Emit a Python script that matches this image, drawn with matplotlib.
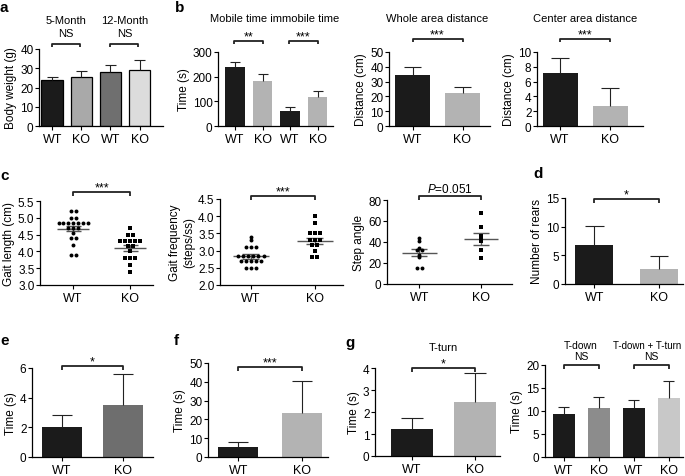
import numpy as np
import matplotlib.pyplot as plt
from matplotlib import transforms

plt.rcParams['font.family'] = ['Liberation Sans', 'DejaVu Sans']
plt.rcParams['font.size'] = 8.5
plt.rcParams['axes.linewidth'] = 0.9
plt.rcParams['mathtext.fontset'] = 'custom'
plt.rcParams['mathtext.it'] = 'Liberation Sans:italic'
plt.rcParams['mathtext.rm'] = 'Liberation Sans'

# ---- data ----
two = ['WT', 'KO']
four = ['WT', 'KO', 'WT', 'KO']

# a: body weight (5-month WT/KO, 12-month WT/KO)
weight_mean = [24.0, 25.3, 27.8, 29.0]
weight_err = [1.7, 3.3, 3.9, 5.3]

# b: mobile / immobile time
mobile_mean = [240, 184, 59, 116]
mobile_err = [19, 26, 20, 26]
whole_mean = [34.5, 22.0]
whole_err = [5.3, 4.6]
center_mean = [7.1, 2.7]
center_err = [2.1, 2.4]

# c: gait analysis (individual animals)
gait_len_wt = [5.2, 5.2, 5.0, 5.0, 4.85, 4.85, 4.85, 4.85, 4.85, 4.85, 4.85,
               4.7, 4.7, 4.7, 4.55, 4.4, 4.4, 4.2, 3.9, 3.9]
gait_len_ko = [4.7, 4.5, 4.5, 4.3, 4.3, 4.3, 4.3, 4.3, 4.15, 4.15, 4.0,
               3.8, 3.8, 3.8, 3.6, 3.4]
gait_len_mean = [4.68, 4.10]
gait_len_sem = [0.07, 0.09]

gait_freq_wt = [3.4, 3.3, 3.1, 3.1, 3.1, 2.85, 2.85, 2.85, 2.85, 2.85, 2.85,
                2.7, 2.7, 2.7, 2.7, 2.7, 2.5, 2.5, 2.5]
gait_freq_ko = [4.0, 3.8, 3.5, 3.5, 3.5, 3.3, 3.3, 3.3, 3.15, 3.15, 3.0,
                2.8, 2.8]
gait_freq_mean = [2.83, 3.27]
gait_freq_sem = [0.06, 0.09]

step_wt = [44, 41, 34, 32, 32, 28, 26, 15, 15]
step_ko = [68, 54, 46, 44, 41, 32, 25]
step_mean = [30.0, 42.7]
step_sem = [3.3, 5.8]

# d: rears
rears_mean = [6.8, 2.7]
rears_err = [3.3, 2.2]

# e, f, g: times
e_mean = [2.0, 3.5]
e_err = [0.8, 2.1]
f_mean = [5.3, 23.4]
f_err = [2.7, 16.8]
tturn_mean = [1.24, 2.47]
tturn_err = [0.5, 1.29]
tdown_mean = [9.4, 10.6, 10.6, 12.9]
tdown_err = [1.4, 2.4, 1.7, 3.6]

BLACK = '#1b1b1b'
GRAY = '#b3b3b3'

W, H = 685, 477
fig = plt.figure(figsize=(W / 100, H / 100), dpi=100)


def make_ax(box, xlim, ylim, yticks, ylabel, xlabels, fmt='{:g}'):
    x0, x1, ytop, ybot = box
    ax = fig.add_axes([x0 / W, 1 - ybot / H, (x1 - x0) / W, (ybot - ytop) / H])
    ax.set_xlim(xlim)
    ax.set_ylim(ylim)
    ax.set_yticks(yticks)
    ax.set_yticklabels([fmt.format(t) for t in yticks])
    ax.set_xticks(range(len(xlabels)))
    ax.set_xticklabels(xlabels)
    ax.set_ylabel(ylabel, labelpad=2, fontsize=8.5)
    for s in ('top', 'right'):
        ax.spines[s].set_visible(False)
    ax.tick_params(axis='y', length=3, width=0.8, pad=1, labelsize=8.5)
    ax.tick_params(axis='x', length=3, width=0.8, pad=2, labelsize=9)
    return ax


def bars(ax, means, errs, colors, width, edge=None, lw=0.0):
    x = np.arange(len(means))
    top = np.add(means, errs)
    ax.bar(x, means, width, color=colors, edgecolor=edge if edge else colors,
           linewidth=lw, zorder=2)
    ax.vlines(x, means, top, color='#222222', lw=0.8, zorder=3)
    ax.hlines(top, x - width / 4, x + width / 4, color='#222222', lw=0.8, zorder=3)


def dots(ax, groups, means, sems, step):
    markers = ['o', 's']
    for i, vals in enumerate(groups):
        vals = np.asarray(vals, dtype=float)
        xs = np.empty(len(vals))
        for v in np.unique(vals):
            idx = np.where(vals == v)[0]
            xs[idx] = i + (np.arange(len(idx)) - (len(idx) - 1) / 2) * step
        ax.scatter(xs, vals, s=8, marker=markers[i], color='black', lw=0, zorder=3)
        m, s = means[i], sems[i]
        ax.hlines(m, i - 0.28, i + 0.28, color='#555555', lw=1.0, zorder=2)
        ax.hlines([m - s, m + s], i - 0.13, i + 0.13, color='#555555', lw=1.0, zorder=2)
        ax.vlines(i, m - s, m + s, color='#555555', lw=1.0, zorder=2)


def bracket(ax, x0, x1, y, label=None, size=9, off=1.2, tick=0.045):
    tr = transforms.blended_transform_factory(ax.transData, ax.transAxes)
    ax.plot([x0, x0, x1, x1], [y - tick, y, y, y - tick], transform=tr,
            color='#222222', lw=1.3, clip_on=False, solid_capstyle='butt')
    if label:
        ax.annotate(label, xy=((x0 + x1) / 2, y), xycoords=tr, xytext=(0, off),
                    textcoords='offset points', ha='center', va='baseline',
                    fontsize=size, annotation_clip=False)


def label_above(ax, x, y, text, size=7.5):
    tr = transforms.blended_transform_factory(ax.transData, ax.transAxes)
    ax.text(x, y, text, transform=tr, ha='center', va='baseline', fontsize=size)


# ---- a ----
ax = make_ax((39, 163, 50, 127), (-0.45, 3.8), (0, 40), range(0, 41, 10),
             'Body weight (g)', four)
bars(ax, weight_mean, weight_err, [BLACK, '#a9a9a9', '#6f6f6f', '#dcdcdc'],
     0.74, edge='black', lw=0.9)
bracket(ax, 0, 0.95, 1.065)
bracket(ax, 2, 2.95, 1.065)
label_above(ax, 0.48, 1.175, 'NS', 8)
label_above(ax, 0.48, 1.34, '5-Month', 8)
label_above(ax, 2.48, 1.175, 'NS', 8)
label_above(ax, 2.48, 1.34, '12-Month', 8)

# ---- b ----
ax = make_ax((218, 333, 53, 127), (-0.62, 3.56), (0, 300), [0, 100, 200, 300],
             'Time (s)', four)
bars(ax, mobile_mean, mobile_err, [BLACK, GRAY, BLACK, GRAY], 0.72)
bracket(ax, -0.05, 1.0, 1.15, '**')
bracket(ax, 1.95, 3.0, 1.15, '***')
label_above(ax, 1.45, 1.42, 'Mobile time immobile time', 8)

ax = make_ax((389, 490, 53, 127), (-0.47, 1.55), (0, 50), range(0, 51, 10),
             'Distance (cm)', two)
bars(ax, whole_mean, whole_err, [BLACK, GRAY], 0.7)
bracket(ax, 0, 1, 1.18, '***')
label_above(ax, 0.5, 1.42, 'Whole area distance', 8)

ax = make_ax((537, 643, 53, 127), (-0.46, 1.66), (0, 10), range(0, 11, 2),
             'Distance (cm)', two)
bars(ax, center_mean, center_err, [BLACK, GRAY], 0.7)
bracket(ax, 0, 1, 1.18, '***')
label_above(ax, 0.5, 1.42, 'Center area distance', 8)

# ---- c ----
ax = make_ax((40, 153, 202, 286), (-0.58, 1.4), (3.0, 5.5),
             np.arange(3.0, 5.51, 0.5), 'Gait length (cm)', two, '{:.1f}')
dots(ax, [gait_len_wt, gait_len_ko], gait_len_mean, gait_len_sem, 0.085)
bracket(ax, 0, 1, 1.107, '***')

ax = make_ax((220, 343, 200, 286), (-0.48, 1.44), (2.0, 4.5),
             np.arange(2.0, 4.51, 0.5), 'Gait frequency\n(steps/ss)', two, '{:.1f}')
dots(ax, [gait_freq_wt, gait_freq_ko], gait_freq_mean, gait_freq_sem, 0.08)
bracket(ax, 0, 1, 1.035, '***')

ax = make_ax((387, 512, 201, 285), (-0.52, 1.5), (0, 80), range(0, 81, 20),
             'Step angle', two)
dots(ax, [step_wt, step_ko], step_mean, step_sem, 0.08)
bracket(ax, 0, 1, 1.048, '$P$=0.051', size=8.5, off=3)

# ---- d ----
ax = make_ax((565, 683, 199, 285), (-0.45, 1.37), (0, 15), [0, 5, 10, 15],
             'Number of rears', two)
bars(ax, rears_mean, rears_err, [BLACK, GRAY], 0.58)
bracket(ax, 0, 1, 0.99, '*')

# ---- e ----
ax = make_ax((32, 153, 369, 458), (-0.49, 1.49), (0, 6), [0, 2, 4, 6],
             'Time (s)', two)
bars(ax, e_mean, e_err, [BLACK, '#6e6e6e'], 0.66)
bracket(ax, 0, 1, 1.02, '*')

# ---- f ----
ax = make_ax((208, 328, 364, 458), (-0.47, 1.4), (0, 50), range(0, 51, 10),
             'Time (s)', two)
bars(ax, f_mean, f_err, [BLACK, GRAY], 0.62)
bracket(ax, 0, 1, 0.96, '***')

# ---- g ----
ax = make_ax((375, 500, 369, 457), (-0.59, 1.4), (0, 4), range(0, 5),
             'Time (s)', two)
bars(ax, tturn_mean, tturn_err, [BLACK, GRAY], 0.68)
bracket(ax, 0, 1, 1.0, '*')
label_above(ax, 0.5, 1.205, 'T-turn', 8)

ax = make_ax((545, 683, 366, 458), (-0.53, 3.41), (0, 20), range(0, 21, 5),
             'Time (s)', four)
bars(ax, tdown_mean, tdown_err, [BLACK, '#8c8c8c', BLACK, '#c8c8c8'], 0.63)
bracket(ax, 0, 1, 1.0)
bracket(ax, 2, 3, 1.0)
label_above(ax, 0.5, 1.065, 'NS')
label_above(ax, 0.5, 1.185, 'T-down')
label_above(ax, 2.5, 1.065, 'NS')
label_above(ax, 2.4, 1.185, 'T-down + T-turn', 7)

# ---- panel letters ----
for letter, px, py in [('a', 0, 12), ('b', 175, 12), ('c', 0, 180), ('d', 533, 178),
                       ('e', 0, 345), ('f', 174, 345), ('g', 345, 347)]:
    fig.text(px / W, 1 - py / H, letter, fontsize=11, fontweight='bold',
             ha='left', va='baseline')

fig.savefig('out.png', dpi=100)
